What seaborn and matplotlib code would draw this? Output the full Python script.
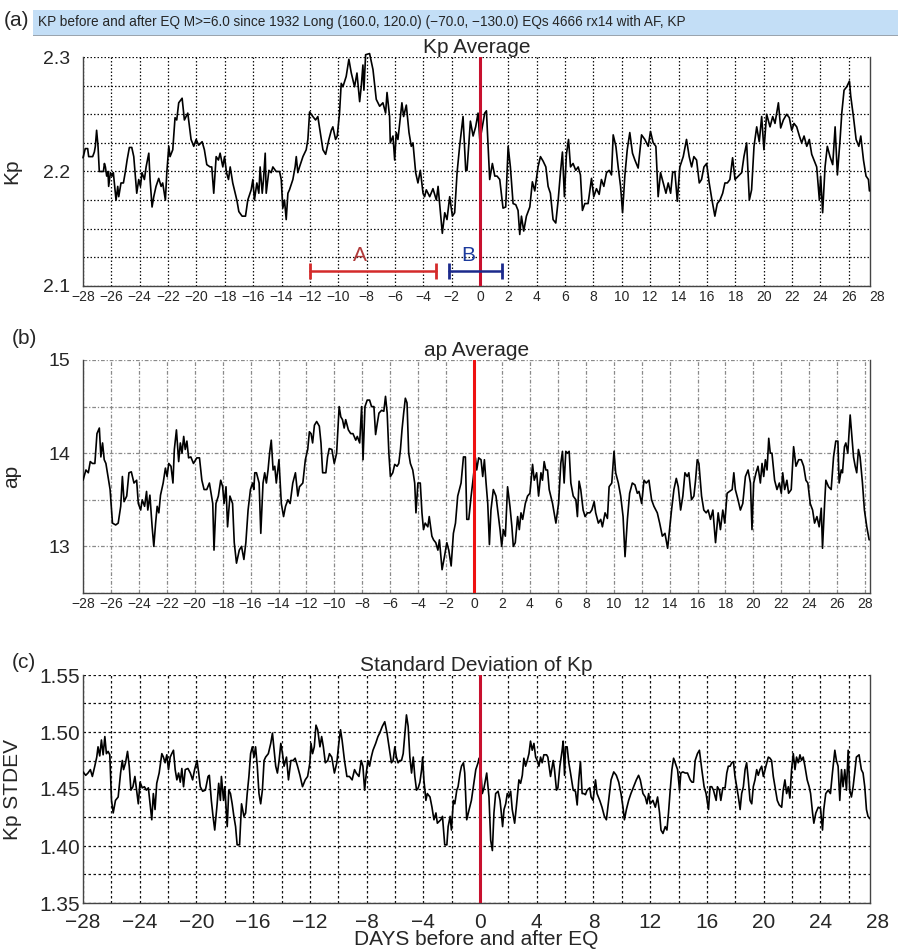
import matplotlib
matplotlib.use("Agg")
import matplotlib.pyplot as plt
import seaborn as sns
import pandas as pd
from matplotlib.patches import Rectangle
from matplotlib.ticker import MultipleLocator, FormatStrFormatter

# values: (day, value)
kp_avg_points = [
    (-28.0, 2.212), (-27.84, 2.220), (-27.67, 2.220), (-27.6, 2.213), (-27.32, 2.213), (-27.2, 2.217),
    (-27.13, 2.222), (-27.04, 2.236), (-26.94, 2.222), (-26.85, 2.200), (-26.56, 2.200), (-26.49, 2.207),
    (-26.42, 2.204), (-26.33, 2.196), (-26.24, 2.200), (-26.19, 2.187), (-26.07, 2.199), (-25.95, 2.196),
    (-25.86, 2.199), (-25.67, 2.175), (-25.55, 2.187), (-25.48, 2.178), (-25.32, 2.190), (-25.15, 2.190),
    (-25.01, 2.200), (-24.89, 2.210), (-24.73, 2.221), (-24.56, 2.221), (-24.42, 2.213), (-24.21, 2.181),
    (-24.07, 2.193), (-23.95, 2.187), (-23.84, 2.199), (-23.67, 2.193), (-23.55, 2.204), (-23.36, 2.216),
    (-23.27, 2.193), (-23.13, 2.169), (-23.01, 2.178), (-22.85, 2.187), (-22.66, 2.194), (-22.49, 2.187),
    (-22.38, 2.190), (-22.19, 2.175), (-22.09, 2.199), (-21.95, 2.222), (-21.86, 2.213), (-21.67, 2.219),
    (-21.51, 2.247), (-21.39, 2.245), (-21.25, 2.260), (-21.01, 2.264), (-20.85, 2.245), (-20.73, 2.248),
    (-20.61, 2.251), (-20.38, 2.228), (-20.19, 2.222), (-20.02, 2.228), (-19.84, 2.223), (-19.6, 2.226),
    (-19.44, 2.219), (-19.27, 2.206), (-19.04, 2.204), (-18.92, 2.204), (-18.78, 2.181), (-18.61, 2.213),
    (-18.45, 2.210), (-18.33, 2.216), (-18.14, 2.204), (-18.02, 2.213), (-17.88, 2.199), (-17.74, 2.193),
    (-17.62, 2.204), (-17.44, 2.190), (-17.15, 2.175), (-17.01, 2.165), (-16.78, 2.161), (-16.54, 2.161),
    (-16.38, 2.175), (-16.14, 2.184), (-16.02, 2.193), (-15.91, 2.175), (-15.74, 2.190), (-15.6, 2.181),
    (-15.51, 2.204), (-15.36, 2.181), (-15.27, 2.193), (-15.15, 2.216), (-15.08, 2.181), (-14.89, 2.201),
    (-14.73, 2.199), (-14.61, 2.204), (-14.38, 2.200), (-14.14, 2.200), (-14.02, 2.193), (-13.91, 2.168),
    (-13.79, 2.175), (-13.67, 2.158), (-13.55, 2.181), (-13.44, 2.184), (-13.2, 2.193), (-13.04, 2.204),
    (-12.96, 2.213), (-12.85, 2.199), (-12.73, 2.204), (-12.49, 2.213), (-12.26, 2.219), (-12.14, 2.228),
    (-12.02, 2.252), (-11.79, 2.248), (-11.6, 2.245), (-11.44, 2.248), (-11.27, 2.234), (-11.08, 2.219),
    (-10.89, 2.215), (-10.66, 2.228), (-10.49, 2.236), (-10.38, 2.239), (-10.19, 2.228), (-10.07, 2.231),
    (-9.91, 2.251), (-9.79, 2.277), (-9.67, 2.274), (-9.44, 2.283), (-9.25, 2.298), (-9.08, 2.286),
    (-8.85, 2.274), (-8.68, 2.286), (-8.49, 2.261), (-8.38, 2.274), (-8.26, 2.293), (-8.19, 2.271),
    (-8.07, 2.302), (-7.79, 2.303), (-7.55, 2.289), (-7.32, 2.263), (-7.08, 2.257), (-6.85, 2.260),
    (-6.66, 2.251), (-6.56, 2.269), (-6.38, 2.248), (-6.33, 2.225), (-6.14, 2.231), (-6.02, 2.210),
    (-5.91, 2.234), (-5.79, 2.228), (-5.67, 2.242), (-5.51, 2.260), (-5.39, 2.248), (-5.2, 2.258),
    (-5.01, 2.234), (-4.85, 2.222), (-4.73, 2.225), (-4.54, 2.199), (-4.38, 2.190), (-4.21, 2.201),
    (-4.02, 2.181), (-3.91, 2.178), (-3.79, 2.184), (-3.55, 2.178), (-3.32, 2.185), (-3.08, 2.175),
    (-2.96, 2.187), (-2.85, 2.172), (-2.66, 2.146), (-2.49, 2.164), (-2.33, 2.158), (-2.14, 2.178),
    (-1.95, 2.161), (-1.79, 2.164), (-1.62, 2.199), (-1.44, 2.222), (-1.2, 2.248), (-1.01, 2.201),
    (-0.92, 2.201), (-0.68, 2.244), (-0.49, 2.231), (-0.31, 2.239), (-0.14, 2.251), (-0.02, 2.228),
    (0.09, 2.234), (0.33, 2.251), (0.45, 2.253), (0.68, 2.193), (0.87, 2.207), (1.04, 2.196),
    (1.2, 2.196), (1.39, 2.193), (1.62, 2.168), (1.81, 2.169), (1.98, 2.222), (2.14, 2.204),
    (2.33, 2.172), (2.52, 2.171), (2.68, 2.166), (2.8, 2.145), (2.92, 2.161), (3.08, 2.148),
    (3.27, 2.161), (3.51, 2.169), (3.69, 2.191), (3.86, 2.183), (4.09, 2.204), (4.26, 2.213),
    (4.45, 2.209), (4.64, 2.204), (4.8, 2.187), (4.96, 2.181), (5.15, 2.158), (5.34, 2.155),
    (5.51, 2.175), (5.67, 2.199), (5.81, 2.217), (5.95, 2.178), (6.09, 2.215), (6.24, 2.228),
    (6.38, 2.204), (6.56, 2.207), (6.75, 2.201), (6.92, 2.204), (7.08, 2.197), (7.22, 2.166),
    (7.39, 2.172), (7.62, 2.172), (7.86, 2.194), (8.02, 2.178), (8.21, 2.185), (8.4, 2.180),
    (8.56, 2.193), (8.73, 2.187), (8.92, 2.199), (9.11, 2.201), (9.27, 2.197), (9.39, 2.232),
    (9.58, 2.222), (9.74, 2.204), (9.91, 2.187), (10.05, 2.164), (10.21, 2.196), (10.38, 2.219),
    (10.56, 2.234), (10.75, 2.216), (10.92, 2.210), (11.15, 2.203), (11.39, 2.232), (11.62, 2.228),
    (11.86, 2.222), (12.02, 2.235), (12.21, 2.225), (12.4, 2.222), (12.56, 2.178), (12.73, 2.199),
    (12.92, 2.190), (13.11, 2.181), (13.27, 2.190), (13.44, 2.181), (13.58, 2.199), (13.74, 2.200),
    (13.91, 2.174), (14.09, 2.204), (14.33, 2.213), (14.56, 2.228), (14.75, 2.213), (14.92, 2.204),
    (15.08, 2.213), (15.27, 2.210), (15.46, 2.190), (15.62, 2.193), (15.79, 2.204), (15.98, 2.207),
    (16.16, 2.190), (16.33, 2.177), (16.56, 2.161), (16.73, 2.172), (16.92, 2.175), (17.11, 2.181),
    (17.27, 2.190), (17.44, 2.190), (17.62, 2.193), (17.81, 2.212), (17.98, 2.193), (18.21, 2.196),
    (18.45, 2.199), (18.61, 2.213), (18.8, 2.225), (18.99, 2.175), (19.15, 2.184), (19.32, 2.222),
    (19.51, 2.239), (19.69, 2.226), (19.86, 2.248), (20.02, 2.219), (20.21, 2.250), (20.45, 2.239),
    (20.64, 2.248), (20.8, 2.242), (21.04, 2.260), (21.2, 2.238), (21.39, 2.245), (21.62, 2.250),
    (21.81, 2.247), (21.98, 2.236), (22.14, 2.242), (22.33, 2.239), (22.52, 2.231), (22.68, 2.225),
    (22.85, 2.231), (23.04, 2.222), (23.22, 2.228), (23.39, 2.215), (23.55, 2.210), (23.74, 2.204),
    (23.93, 2.175), (24.02, 2.196), (24.16, 2.164), (24.33, 2.204), (24.49, 2.222), (24.68, 2.213),
    (24.87, 2.206), (25.04, 2.239), (25.2, 2.197), (25.39, 2.228), (25.51, 2.251), (25.67, 2.271),
    (25.86, 2.274), (26.05, 2.279), (26.14, 2.266), (26.33, 2.248), (26.52, 2.228), (26.71, 2.222),
    (26.85, 2.231), (27.04, 2.210), (27.22, 2.196), (27.39, 2.193), (27.46, 2.183),
]

ap_avg_points = [
    (-28.0, 13.71), (-27.79, 13.82), (-27.62, 13.79), (-27.48, 13.91), (-27.32, 13.89), (-27.15, 13.89),
    (-27.0, 14.21), (-26.83, 14.27), (-26.72, 13.96), (-26.6, 14.11), (-26.48, 13.93), (-26.36, 13.89),
    (-26.25, 13.79), (-26.06, 13.61), (-25.89, 13.25), (-25.66, 13.23), (-25.48, 13.25), (-25.3, 13.43),
    (-25.18, 13.75), (-25.06, 13.48), (-24.87, 13.54), (-24.71, 13.79), (-24.54, 13.80), (-24.35, 13.68),
    (-24.16, 13.71), (-24.04, 13.46), (-23.87, 13.39), (-23.76, 13.50), (-23.59, 13.43), (-23.45, 13.59),
    (-23.36, 13.39), (-23.21, 13.55), (-23.05, 13.21), (-22.93, 13.00), (-22.8, 13.25), (-22.69, 13.43),
    (-22.57, 13.36), (-22.45, 13.55), (-22.26, 13.68), (-22.1, 13.84), (-21.98, 13.75), (-21.86, 13.89),
    (-21.7, 13.86), (-21.56, 13.68), (-21.46, 14.04), (-21.31, 14.25), (-21.15, 13.91), (-21.03, 14.11),
    (-20.91, 14.00), (-20.79, 14.18), (-20.68, 14.04), (-20.56, 14.13), (-20.44, 13.95), (-20.28, 13.96),
    (-20.09, 13.89), (-19.85, 13.95), (-19.66, 13.95), (-19.49, 13.71), (-19.33, 13.61), (-19.14, 13.61),
    (-18.95, 13.68), (-18.83, 13.57), (-18.71, 13.46), (-18.62, 12.96), (-18.48, 13.46), (-18.31, 13.54),
    (-18.14, 13.71), (-18.0, 13.64), (-17.9, 13.46), (-17.76, 13.64), (-17.65, 13.21), (-17.48, 13.54),
    (-17.29, 13.46), (-17.17, 13.04), (-17.01, 12.82), (-16.81, 12.96), (-16.65, 13.00), (-16.48, 12.86),
    (-16.34, 13.04), (-16.18, 13.39), (-16.01, 13.61), (-15.86, 13.68), (-15.77, 13.61), (-15.7, 13.79),
    (-15.58, 13.79), (-15.39, 13.68), (-15.27, 13.14), (-15.11, 13.68), (-14.99, 13.79), (-14.87, 13.68),
    (-14.75, 13.82), (-14.64, 14.00), (-14.52, 14.14), (-14.39, 13.82), (-14.27, 13.86), (-14.16, 13.68),
    (-13.97, 13.93), (-13.8, 13.46), (-13.64, 13.32), (-13.5, 13.43), (-13.33, 13.50), (-13.17, 13.46),
    (-12.98, 13.68), (-12.79, 13.79), (-12.62, 13.54), (-12.5, 13.64), (-12.26, 13.68), (-12.08, 13.93),
    (-11.91, 14.04), (-11.79, 14.23), (-11.67, 14.21), (-11.56, 14.11), (-11.43, 14.30), (-11.27, 14.34),
    (-11.08, 14.29), (-10.96, 14.11), (-10.84, 13.79), (-10.61, 13.79), (-10.49, 13.96), (-10.37, 14.05),
    (-10.18, 14.04), (-10.01, 13.89), (-9.84, 14.00), (-9.66, 14.50), (-9.54, 14.39), (-9.42, 14.36),
    (-9.3, 14.27), (-9.19, 14.36), (-9.0, 14.25), (-8.83, 14.21), (-8.67, 14.21), (-8.47, 14.14),
    (-8.36, 14.18), (-8.19, 14.11), (-8.05, 14.50), (-7.95, 13.93), (-7.81, 14.50), (-7.65, 14.57),
    (-7.48, 14.57), (-7.34, 14.50), (-7.17, 14.50), (-7.05, 14.20), (-6.93, 14.32), (-6.81, 14.43),
    (-6.62, 14.46), (-6.46, 14.45), (-6.34, 14.61), (-6.22, 14.43), (-6.1, 14.00), (-5.99, 13.75),
    (-5.82, 13.79), (-5.68, 13.88), (-5.51, 13.86), (-5.39, 13.89), (-5.27, 14.04), (-5.16, 14.25),
    (-5.04, 14.43), (-4.92, 14.59), (-4.8, 14.54), (-4.68, 14.00), (-4.56, 13.89), (-4.39, 13.82),
    (-4.25, 13.68), (-4.16, 13.36), (-4.02, 13.68), (-3.85, 13.68), (-3.73, 13.36), (-3.62, 13.18),
    (-3.5, 13.25), (-3.31, 13.21), (-3.21, 13.32), (-3.02, 13.11), (-2.9, 13.07), (-2.74, 13.04),
    (-2.59, 12.96), (-2.48, 13.07), (-2.29, 12.75), (-2.12, 12.89), (-1.95, 13.04), (-1.81, 12.96),
    (-1.64, 12.79), (-1.48, 13.14), (-1.33, 13.25), (-1.17, 13.54), (-1.05, 13.61), (-0.93, 13.68),
    (-0.76, 13.96), (-0.62, 13.96), (-0.52, 13.29), (-0.38, 13.29), (-0.21, 13.54), (-0.1, 13.68),
    (0.1, 13.95), (0.19, 13.82), (0.33, 13.95), (0.5, 13.93), (0.62, 13.75), (0.74, 13.93),
    (0.86, 13.68), (0.98, 13.46), (1.1, 13.02), (1.21, 13.39), (1.38, 13.61), (1.57, 13.54),
    (1.69, 13.39), (1.86, 13.18), (1.98, 13.00), (2.1, 13.18), (2.24, 13.11), (2.4, 13.64),
    (2.57, 13.43), (2.71, 13.21), (2.81, 13.00), (2.95, 13.04), (3.12, 13.32), (3.24, 13.18),
    (3.36, 13.36), (3.48, 13.29), (3.67, 13.46), (3.83, 13.54), (4.0, 13.57), (4.19, 13.88),
    (4.31, 13.71), (4.48, 13.79), (4.62, 13.54), (4.79, 13.79), (4.9, 13.71), (5.02, 13.91),
    (5.14, 13.82), (5.26, 13.82), (5.38, 13.61), (5.62, 13.46), (5.86, 13.25), (6.05, 13.46),
    (6.21, 13.89), (6.33, 14.02), (6.45, 13.68), (6.57, 14.02), (6.69, 14.00), (6.81, 14.02),
    (6.93, 13.68), (7.1, 13.54), (7.29, 13.50), (7.4, 13.32), (7.52, 13.70), (7.64, 13.61),
    (7.81, 13.39), (7.95, 13.32), (8.12, 13.36), (8.29, 13.36), (8.43, 13.39), (8.6, 13.48),
    (8.71, 13.36), (8.9, 13.25), (9.07, 13.29), (9.19, 13.21), (9.38, 13.36), (9.55, 13.30),
    (9.67, 13.64), (9.86, 13.68), (10.02, 14.02), (10.14, 13.79), (10.33, 13.68), (10.5, 13.54),
    (10.67, 13.32), (10.81, 12.89), (10.98, 13.29), (11.14, 13.57), (11.33, 13.68), (11.52, 13.66),
    (11.69, 13.57), (11.81, 13.59), (12.0, 13.46), (12.17, 13.71), (12.33, 13.68), (12.52, 13.71),
    (12.71, 13.50), (12.88, 13.43), (13.12, 13.36), (13.29, 13.25), (13.48, 13.11), (13.67, 13.14),
    (13.86, 12.98), (14.0, 13.18), (14.14, 13.39), (14.31, 13.61), (14.48, 13.73), (14.62, 13.64),
    (14.79, 13.39), (14.95, 13.54), (15.1, 13.79), (15.26, 13.75), (15.38, 13.79), (15.57, 13.50),
    (15.74, 13.54), (15.86, 13.71), (15.98, 13.93), (16.1, 13.89), (16.29, 13.54), (16.45, 13.39),
    (16.62, 13.36), (16.76, 13.39), (16.93, 13.29), (17.1, 13.39), (17.29, 13.04), (17.48, 13.36),
    (17.64, 13.18), (17.81, 13.39), (17.95, 13.25), (18.12, 13.57), (18.29, 13.59), (18.48, 13.61),
    (18.6, 13.79), (18.71, 13.61), (18.9, 13.50), (19.07, 13.39), (19.24, 13.46), (19.43, 13.75),
    (19.62, 13.82), (19.79, 13.68), (19.9, 13.18), (20.02, 13.68), (20.19, 13.79), (20.33, 13.86),
    (20.5, 13.68), (20.62, 13.89), (20.74, 13.75), (20.86, 13.93), (20.98, 13.82), (21.1, 14.16),
    (21.21, 14.00), (21.33, 14.00), (21.52, 13.71), (21.69, 13.61), (21.86, 13.68), (22.0, 13.57),
    (22.1, 13.79), (22.24, 13.61), (22.4, 13.71), (22.52, 13.57), (22.71, 13.61), (22.88, 14.07),
    (23.05, 13.86), (23.24, 13.93), (23.43, 13.93), (23.6, 13.86), (23.76, 13.71), (23.9, 13.68),
    (24.07, 13.46), (24.24, 13.39), (24.38, 13.25), (24.55, 13.32), (24.71, 13.21), (24.86, 13.41),
    (24.95, 12.98), (25.1, 13.46), (25.19, 13.71), (25.38, 13.64), (25.57, 13.61), (25.74, 13.96),
    (25.9, 14.13), (26.05, 14.13), (26.14, 13.68), (26.29, 13.82), (26.38, 13.79), (26.52, 14.07),
    (26.62, 14.11), (26.76, 14.00), (26.93, 14.41), (27.05, 14.18), (27.17, 13.96), (27.29, 13.86),
    (27.4, 13.79), (27.52, 14.04), (27.64, 13.96), (27.81, 13.68), (27.95, 13.39), (28.12, 13.21),
    (28.29, 13.07),
]

kp_std_points = [
    (-28.0, 1.465), (-27.81, 1.462), (-27.65, 1.464), (-27.48, 1.467), (-27.34, 1.461), (-27.17, 1.470),
    (-27.03, 1.478), (-26.94, 1.487), (-26.82, 1.479), (-26.7, 1.493), (-26.58, 1.480), (-26.46, 1.496),
    (-26.35, 1.481), (-26.23, 1.483), (-26.11, 1.480), (-25.99, 1.440), (-25.87, 1.429), (-25.71, 1.440),
    (-25.52, 1.443), (-25.35, 1.464), (-25.23, 1.475), (-25.14, 1.467), (-25.0, 1.473), (-24.86, 1.483),
    (-24.74, 1.470), (-24.62, 1.449), (-24.48, 1.452), (-24.34, 1.461), (-24.22, 1.449), (-24.1, 1.437),
    (-23.98, 1.456), (-23.82, 1.451), (-23.67, 1.452), (-23.53, 1.449), (-23.39, 1.451), (-23.15, 1.423),
    (-23.04, 1.446), (-22.92, 1.432), (-22.8, 1.455), (-22.63, 1.464), (-22.44, 1.481), (-22.33, 1.478),
    (-22.21, 1.473), (-22.09, 1.480), (-21.97, 1.467), (-21.85, 1.478), (-21.74, 1.481), (-21.62, 1.484),
    (-21.5, 1.467), (-21.38, 1.458), (-21.26, 1.464), (-21.14, 1.456), (-21.03, 1.468), (-20.91, 1.452),
    (-20.79, 1.467), (-20.6, 1.468), (-20.43, 1.464), (-20.27, 1.458), (-20.13, 1.467), (-19.96, 1.475),
    (-19.84, 1.464), (-19.73, 1.452), (-19.56, 1.448), (-19.37, 1.449), (-19.18, 1.461), (-19.09, 1.462),
    (-18.95, 1.440), (-18.83, 1.426), (-18.71, 1.414), (-18.54, 1.437), (-18.43, 1.455), (-18.31, 1.440),
    (-18.24, 1.461), (-18.09, 1.440), (-18.0, 1.452), (-17.83, 1.417), (-17.72, 1.449), (-17.6, 1.446),
    (-17.48, 1.437), (-17.36, 1.426), (-17.24, 1.417), (-17.13, 1.401), (-16.96, 1.401), (-16.82, 1.437),
    (-16.65, 1.426), (-16.53, 1.429), (-16.42, 1.446), (-16.3, 1.461), (-16.18, 1.481), (-16.06, 1.487),
    (-15.94, 1.478), (-15.83, 1.487), (-15.71, 1.470), (-15.59, 1.446), (-15.47, 1.437), (-15.35, 1.449),
    (-15.23, 1.475), (-15.12, 1.478), (-14.93, 1.481), (-14.76, 1.490), (-14.64, 1.499), (-14.52, 1.484),
    (-14.41, 1.470), (-14.29, 1.464), (-14.17, 1.475), (-14.05, 1.490), (-13.93, 1.481), (-13.82, 1.470),
    (-13.65, 1.478), (-13.51, 1.458), (-13.34, 1.475), (-13.18, 1.475), (-13.04, 1.477), (-12.87, 1.470),
    (-12.7, 1.462), (-12.52, 1.452), (-12.33, 1.458), (-12.16, 1.461), (-12.0, 1.473), (-11.92, 1.490),
    (-11.81, 1.481), (-11.69, 1.487), (-11.57, 1.506), (-11.45, 1.502), (-11.29, 1.487), (-11.17, 1.496),
    (-11.05, 1.487), (-10.91, 1.473), (-10.74, 1.475), (-10.62, 1.481), (-10.46, 1.478), (-10.27, 1.464),
    (-10.1, 1.473), (-9.96, 1.490), (-9.84, 1.502), (-9.73, 1.493), (-9.56, 1.475), (-9.39, 1.461),
    (-9.21, 1.461), (-9.02, 1.458), (-8.85, 1.467), (-8.73, 1.464), (-8.54, 1.461), (-8.38, 1.475),
    (-8.26, 1.470), (-8.14, 1.449), (-8.02, 1.464), (-7.91, 1.475), (-7.79, 1.470), (-7.67, 1.478),
    (-7.55, 1.484), (-7.36, 1.490), (-7.2, 1.496), (-7.08, 1.499), (-6.89, 1.505), (-6.72, 1.509),
    (-6.56, 1.499), (-6.42, 1.487), (-6.25, 1.473), (-6.13, 1.475), (-6.01, 1.487), (-5.9, 1.478),
    (-5.78, 1.473), (-5.66, 1.475), (-5.54, 1.475), (-5.42, 1.481), (-5.3, 1.499), (-5.19, 1.515),
    (-5.07, 1.505), (-4.95, 1.478), (-4.83, 1.464), (-4.71, 1.478), (-4.6, 1.461), (-4.48, 1.449),
    (-4.36, 1.451), (-4.24, 1.456), (-4.12, 1.467), (-4.05, 1.478), (-3.96, 1.458), (-3.82, 1.440),
    (-3.72, 1.446), (-3.53, 1.443), (-3.39, 1.434), (-3.25, 1.423), (-3.11, 1.429), (-3.01, 1.420),
    (-2.77, 1.423), (-2.65, 1.426), (-2.49, 1.401), (-2.34, 1.401), (-2.25, 1.417), (-2.11, 1.426),
    (-2.02, 1.414), (-1.88, 1.440), (-1.78, 1.437), (-1.64, 1.449), (-1.55, 1.452), (-1.41, 1.464),
    (-1.31, 1.470), (-1.17, 1.473), (-1.08, 1.464), (-0.94, 1.423), (-0.77, 1.432), (-0.61, 1.440),
    (-0.47, 1.452), (-0.3, 1.467), (-0.14, 1.473), (-0.07, 1.477), (0.05, 1.467), (0.16, 1.446),
    (0.28, 1.451), (0.47, 1.464), (0.63, 1.443), (0.75, 1.405), (0.87, 1.396), (0.98, 1.429),
    (1.1, 1.446), (1.27, 1.448), (1.41, 1.440), (1.5, 1.429), (1.59, 1.417), (1.69, 1.432),
    (1.81, 1.437), (1.92, 1.446), (2.04, 1.443), (2.16, 1.448), (2.27, 1.432), (2.44, 1.420),
    (2.58, 1.437), (2.74, 1.458), (2.86, 1.455), (2.98, 1.462), (3.09, 1.477), (3.21, 1.470),
    (3.33, 1.475), (3.45, 1.481), (3.56, 1.492), (3.68, 1.484), (3.8, 1.490), (3.92, 1.478),
    (4.03, 1.475), (4.15, 1.470), (4.27, 1.478), (4.38, 1.473), (4.5, 1.480), (4.69, 1.480),
    (4.78, 1.478), (4.97, 1.461), (5.16, 1.475), (5.25, 1.467), (5.39, 1.449), (5.49, 1.451),
    (5.63, 1.470), (5.79, 1.484), (5.86, 1.492), (5.96, 1.462), (6.03, 1.487), (6.14, 1.487),
    (6.26, 1.473), (6.38, 1.464), (6.57, 1.449), (6.73, 1.448), (6.85, 1.436), (6.96, 1.458),
    (7.08, 1.474), (7.2, 1.446), (7.32, 1.446), (7.43, 1.445), (7.55, 1.449), (7.74, 1.451),
    (7.83, 1.443), (7.97, 1.440), (8.14, 1.458), (8.25, 1.446), (8.44, 1.440), (8.6, 1.434),
    (8.77, 1.426), (8.91, 1.423), (9.07, 1.440), (9.24, 1.458), (9.43, 1.465), (9.61, 1.462),
    (9.78, 1.456), (9.94, 1.446), (10.08, 1.434), (10.18, 1.423), (10.32, 1.432), (10.48, 1.440),
    (10.64, 1.446), (10.83, 1.452), (11.02, 1.458), (11.18, 1.462), (11.3, 1.458), (11.49, 1.446),
    (11.65, 1.443), (11.77, 1.437), (11.89, 1.446), (12.0, 1.437), (12.19, 1.440), (12.36, 1.434),
    (12.52, 1.443), (12.66, 1.429), (12.76, 1.414), (12.9, 1.411), (13.06, 1.417), (13.18, 1.414),
    (13.29, 1.429), (13.41, 1.449), (13.53, 1.467), (13.65, 1.477), (13.76, 1.473), (13.93, 1.467),
    (14.07, 1.449), (14.16, 1.464), (14.3, 1.465), (14.47, 1.464), (14.63, 1.464), (14.82, 1.458),
    (14.94, 1.456), (15.05, 1.456), (15.17, 1.475), (15.33, 1.481), (15.47, 1.484), (15.64, 1.467),
    (15.8, 1.452), (15.94, 1.446), (16.11, 1.432), (16.22, 1.452), (16.34, 1.452), (16.46, 1.449),
    (16.65, 1.440), (16.74, 1.452), (16.88, 1.449), (16.98, 1.440), (17.12, 1.451), (17.28, 1.451),
    (17.4, 1.464), (17.51, 1.470), (17.63, 1.470), (17.75, 1.473), (17.87, 1.474), (17.98, 1.461),
    (18.1, 1.452), (18.22, 1.443), (18.34, 1.432), (18.45, 1.446), (18.57, 1.452), (18.69, 1.467),
    (18.8, 1.473), (18.92, 1.458), (19.04, 1.440), (19.16, 1.437), (19.27, 1.452), (19.39, 1.458),
    (19.51, 1.467), (19.62, 1.462), (19.74, 1.467), (19.86, 1.470), (19.98, 1.461), (20.16, 1.470),
    (20.33, 1.478), (20.45, 1.477), (20.56, 1.475), (20.68, 1.461), (20.8, 1.452), (20.96, 1.440),
    (21.1, 1.436), (21.27, 1.434), (21.38, 1.449), (21.5, 1.458), (21.62, 1.446), (21.74, 1.452),
    (21.85, 1.442), (21.97, 1.467), (22.09, 1.481), (22.21, 1.467), (22.32, 1.478), (22.44, 1.473),
    (22.56, 1.480), (22.67, 1.475), (22.79, 1.478), (22.91, 1.470), (23.07, 1.458), (23.21, 1.452),
    (23.31, 1.446), (23.45, 1.429), (23.54, 1.420), (23.68, 1.429), (23.85, 1.434), (24.01, 1.433),
    (24.15, 1.414), (24.24, 1.432), (24.38, 1.446), (24.55, 1.449), (24.71, 1.446), (24.85, 1.464),
    (25.02, 1.484), (25.13, 1.475), (25.25, 1.470), (25.37, 1.440), (25.49, 1.467), (25.6, 1.452),
    (25.72, 1.467), (25.84, 1.449), (25.96, 1.484), (26.07, 1.449), (26.19, 1.443), (26.31, 1.452),
    (26.42, 1.464), (26.54, 1.478), (26.73, 1.480), (26.89, 1.467), (27.01, 1.464), (27.13, 1.452),
    (27.25, 1.432), (27.36, 1.426), (27.48, 1.424),
]

header = "KP before and after EQ M>=6.0 since 1932 Long (160.0, 120.0) (\u221270.0, \u2212130.0) EQs 4666 rx14 with AF, KP"
titles = ["Kp Average", "ap Average", "Standard Deviation of Kp"]
ylabels = ["Kp", "ap", "Kp STDEV"]
panel_tags = ["(a)", "(b)", "(c)"]
xlabel = "DAYS before and after EQ"

# windows marked in panel (a): name, start day, end day, label day
windows = [("A", -11.98, -3.08, -8.5), ("B", -2.16, 1.53, -0.8)]

sns.set_style("white")
plt.rcParams["font.family"] = ["Liberation Sans", "DejaVu Sans"]
plt.rcParams["axes.unicode_minus"] = True

W, H = 898, 951
fig = plt.figure(figsize=(W / 100, H / 100), dpi=100)


def box(top, bottom, left=83, right=870):
    return [left / W, 1 - bottom / H, (right - left) / W, (bottom - top) / H]


ax_a = fig.add_axes(box(57, 286))
ax_b = fig.add_axes(box(360, 593))
ax_c = fig.add_axes(box(675, 903))

frames = [pd.DataFrame(p, columns=["day", "value"]) for p in (kp_avg_points, ap_avg_points, kp_std_points)]

dot = (0, (1.2, 1.6))
dashdot = (0, (3, 1.5, 1, 1.5))

for ax, df, title, ylab in zip([ax_a, ax_b, ax_c], frames, titles, ylabels):
    sns.lineplot(data=df, x="day", y="value", ax=ax, color="black", lw=1.2,
                 estimator=None, sort=False, zorder=4)
    ax.set_title(title, fontsize=15, pad=3)
    ax.set_xlabel("")
    ax.set_ylabel(ylab, fontsize=15)
    ax.yaxis.set_label_coords(-0.078, 0.5)
    for s in ["left", "right", "bottom"]:
        ax.spines[s].set_color("#444444")
        ax.spines[s].set_linewidth(1.0)
    ax.spines["top"].set_visible(False)
    ax.tick_params(which="both", length=0)

# (a) Kp average
ax_a.set_xlim(-28, 27.5)
ax_a.set_ylim(2.1, 2.3)
ax_a.xaxis.set_major_locator(MultipleLocator(2))
ax_a.yaxis.set_major_locator(MultipleLocator(0.1))
ax_a.yaxis.set_minor_locator(MultipleLocator(0.025))
ax_a.yaxis.set_major_formatter(FormatStrFormatter("%.1f"))
ax_a.grid(which="both", color="#111111", linestyle=dot, linewidth=0.9)
ax_a.tick_params(axis="x", labelsize=10, pad=3)
ax_a.tick_params(axis="y", labelsize=14, pad=9)
ax_a.lines[0].set_clip_on(False)
ax_a.axvline(0, color="#c8102e", lw=2.2, zorder=5)

colors = {"A": ("#d42a2a", "#b03a3a"), "B": ("#1c2a8c", "#1c3a9c")}
for name, x0, x1, xt in windows:
    line_c, text_c = colors[name]
    ax_a.plot([x0, x1], [2.1134, 2.1134], color=line_c, lw=1.8, marker="|",
              markersize=12, markeredgewidth=2, zorder=6)
    ax_a.text(xt, 2.1265, name, color=text_c, fontsize=15, ha="center", va="center", zorder=6)

# (b) ap average
ax_b.set_xlim(-28, 28.35)
ax_b.set_ylim(12.5, 15)
ax_b.xaxis.set_major_locator(MultipleLocator(2))
ax_b.yaxis.set_major_locator(MultipleLocator(1))
ax_b.yaxis.set_minor_locator(MultipleLocator(0.5))
ax_b.yaxis.set_major_formatter(FormatStrFormatter("%d"))
ax_b.grid(which="both", color="#8a8a8a", linestyle=dashdot, linewidth=0.9)
ax_b.tick_params(axis="x", labelsize=10, pad=3)
ax_b.tick_params(axis="y", labelsize=14, pad=9)
ax_b.axvline(0, color="#ee1111", lw=2.2, zorder=5)

# (c) Kp standard deviation
ax_c.set_xlim(-28, 27.5)
ax_c.set_ylim(1.35, 1.55)
ax_c.xaxis.set_major_locator(MultipleLocator(4))
ax_c.xaxis.set_minor_locator(MultipleLocator(2))
ax_c.yaxis.set_major_locator(MultipleLocator(0.05))
ax_c.yaxis.set_minor_locator(MultipleLocator(0.025))
ax_c.yaxis.set_major_formatter(FormatStrFormatter("%.2f"))
ax_c.grid(which="both", color="#111111", linestyle=(0, (2, 2)), linewidth=0.9)
ax_c.tick_params(axis="x", labelsize=15, pad=7)
ax_c.tick_params(axis="y", labelsize=15, pad=2)
ax_c.axvline(0, color="#c8102e", lw=2.2, zorder=5)
ax_c.set_xlabel(xlabel, fontsize=15, labelpad=-1)

# the "28" label sits just past the right frame in (a) and (c)
for ax, size, off in [(ax_a, 10, -3), (ax_c, 15, -7)]:
    ax.annotate("28", xy=(28, 0), xycoords=("data", "axes fraction"), xytext=(0, off),
                textcoords="offset points", ha="center", va="top", fontsize=size,
                annotation_clip=False)

# header bar and panel tags
fig.patches.append(Rectangle((33 / W, 1 - 35 / H), (W - 33) / W, 25 / H, transform=fig.transFigure,
                             facecolor="#c3def6", edgecolor="none", zorder=0))
fig.patches.append(Rectangle((33 / W, 1 - 36 / H), (W - 33) / W, 1.2 / H, transform=fig.transFigure,
                             facecolor="#9aa4ae", edgecolor="none", zorder=0))
fig.text(38 / W, 1 - 22 / H, header, fontsize=9.8, ha="left", va="center")
fig.text(4 / W, 1 - 21 / H, panel_tags[0], fontsize=15, ha="left", va="center")
fig.text(12 / W, 1 - 339 / H, panel_tags[1], fontsize=15, ha="left", va="center")
fig.text(12 / W, 1 - 663 / H, panel_tags[2], fontsize=15, ha="left", va="center")

fig.savefig("out.png", dpi=100, facecolor="white")
